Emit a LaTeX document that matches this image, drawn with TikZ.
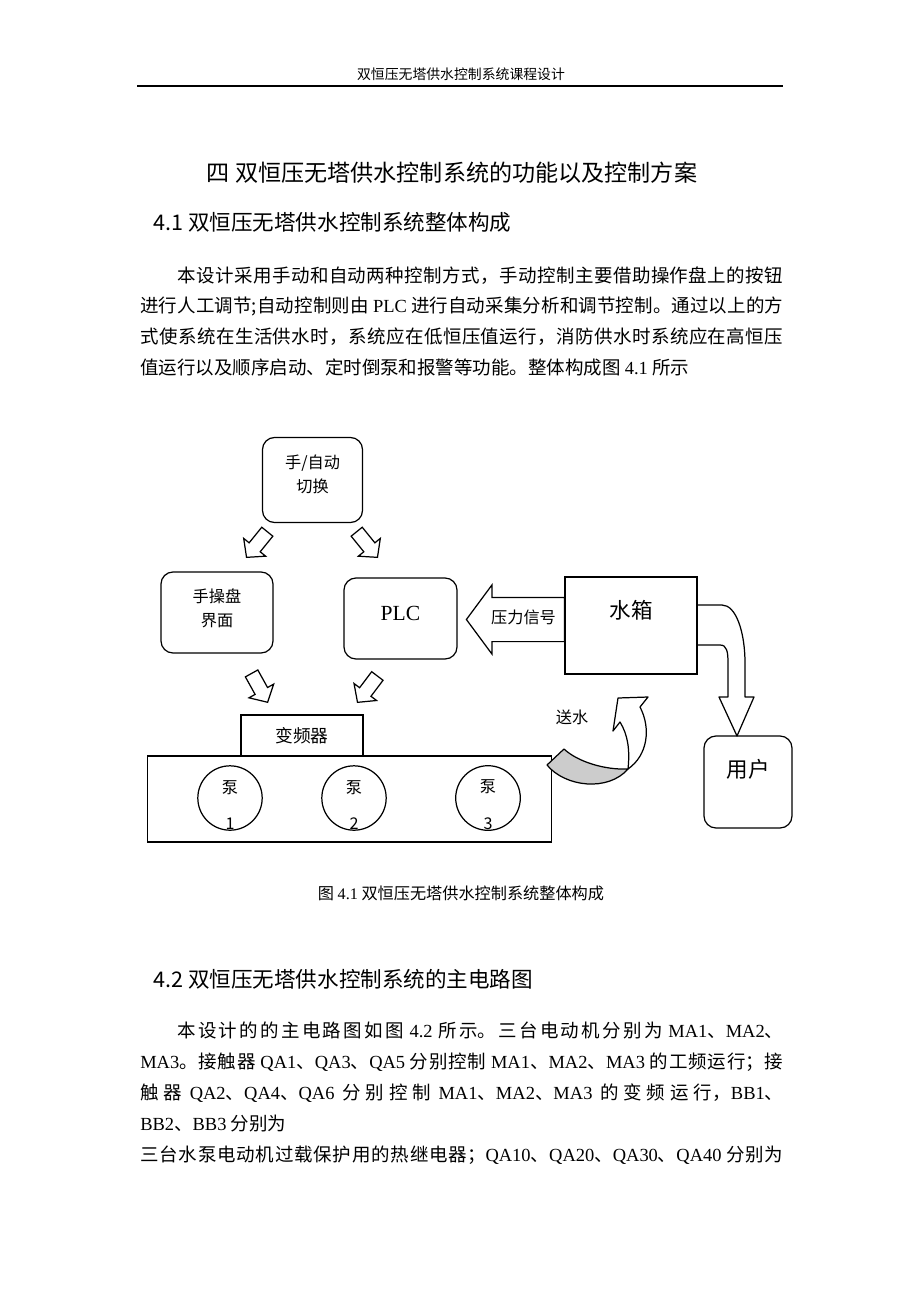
\documentclass[tikz,border=0pt]{standalone}
\usepackage{fontspec}
\setmainfont{Noto Sans CJK SC}
\newfontfamily\lat{Liberation Serif}
\newcommand{\en}[1]{{\lat #1}}
\usetikzlibrary{shapes.arrows}
\newlength{\pxu}
\setlength{\pxu}{0.22826mm}
\XeTeXlinebreaklocale "zh"
\XeTeXlinebreakskip=0pt plus 2pt minus 0.3pt
\tolerance=9999
\hbadness=10000
\newcommand{\xiaowu}{\fontsize{9pt}{11pt}\selectfont}
\newcommand{\wuhao}{\fontsize{10.5pt}{15.5pt}\selectfont}
\newcommand{\bianpin}{\fontsize{11.5pt}{14pt}\selectfont}
\newcommand{\xiaosi}{\fontsize{12pt}{20.1pt}\selectfont}
\newcommand{\sihao}{\fontsize{14pt}{18pt}\selectfont}
\newcommand{\xiaosan}{\fontsize{15pt}{18pt}\selectfont}
\newcommand{\lift}[1]{\rule[-#1]{0pt}{0pt}}

\begin{document}
\begin{tikzpicture}[x=\pxu,y=-\pxu,
  box/.style={draw,line width=0.8pt,align=center,inner sep=0pt},
  rbox/.style={box,rounded corners=12\pxu},
  pump/.style={draw,line width=0.8pt,circle,minimum size=62\pxu,inner sep=0pt,align=center,font=\wuhao},
  blk/.style={draw,line width=0.8pt,single arrow,single arrow head extend=7\pxu,
    single arrow tip angle=95,minimum height=33\pxu,inner sep=6.5\pxu,anchor=tip},
  press/.style={draw,line width=0.8pt,single arrow,shape border rotate=180,
    single arrow head extend=12.5\pxu,single arrow tip angle=107,minimum height=98\pxu,
    inner xsep=5\pxu,inner ysep=14.5\pxu,text height=11\pxu,text depth=3\pxu,font=\wuhao},
  flow/.style={draw,line width=0.8pt,line join=round},
  para/.style={anchor=north west,inner sep=0pt,text width=643\pxu,align=justify,font=\xiaosi}]
\useasboundingbox (0,0) rectangle (920,1302);
% page head
\node[font=\xiaowu] (hdr) at (461,74) {双恒压无塔供水控制系统课程设计};
\draw[line width=1.3pt] (137,86) -- (783,86);
\node[font=\xiaosan] (title) at (452,173) {四 双恒压无塔供水控制系统的功能以及控制方案};
\node[font=\sihao,anchor=west] (sec1) at (148,222) {4.1 双恒压无塔供水控制系统整体构成};
\node[para] (para1) at (140,266) {\noindent\hspace*{2em}本设计采用手动和自动两种控制方式，手动控制主要借助操作盘上的按钮\linebreak
进行人工调节;自动控制则由 \en{PLC} 进行自动采集分析和调节控制。通过以上的方\linebreak
式使系统在生活供水时，系统应在低恒压值运行，消防供水时系统应在高恒压\linebreak
值运行以及顺序启动、定时倒泵和报警等功能。整体构成图 \en{4.1} 所示};
%------------------ figure 4.1
\node[rbox,minimum width=100\pxu,minimum height=85\pxu,font=\wuhao] (switch) at (312.5,480) {手/自动\\切换\lift{8.5pt}};
\node[rbox,minimum width=112\pxu,minimum height=81\pxu,font=\wuhao] (manual) at (217,612.5) {手操盘\\界面\lift{6.5pt}};
\node[rbox,minimum width=113\pxu,minimum height=81\pxu,font=\sihao\lat,text depth=11\pxu] (plc) at (400.5,618.5) {PLC};
\node[box,minimum width=132\pxu,minimum height=97\pxu,font=\sihao,text depth=32\pxu] (tank) at (631,625.5) {水箱};
\node[rbox,minimum width=88\pxu,minimum height=92\pxu,font=\sihao,text depth=27\pxu] (user) at (748,782) {用户};
\node[box,minimum width=404\pxu,minimum height=86\pxu] (base) at (349.5,799) {};
\node[box,minimum width=122\pxu,minimum height=41\pxu,font=\bianpin] (inv) at (302,735.5) {变频器};
\node[pump] (pumpA) at (230,798) {\rule{0pt}{17pt}泵\\[8pt]1};
\node[pump] (pumpB) at (354,798) {\rule{0pt}{17pt}泵\\[8pt]2};
\node[pump] (pumpC) at (488,798) {\rule{0pt}{17pt}泵\\[8pt]3};
\node[blk,rotate=-129] (arrA) at (246,558) {};
\node[blk,rotate=-51] (arrB) at (378,558) {};
\node[blk,rotate=-61] (arrC) at (268,703) {};
\node[blk,rotate=-127] (arrD) at (357,703) {};
\node[press,anchor=tail] (sig) at (565,619.5) {压力信号};
\draw[flow] (697,605) -- (722,605) .. controls (736,605) and (745,632) .. (745,663) -- (745,697)
  -- (754,697) -- (737,736) -- (719,697) -- (728,697) -- (728,663)
  .. controls (728,652) and (727,645) .. (720,645) -- (697,645);
\draw[flow,fill=gray!40] (628,769) .. controls (605,770) and (578,762) .. (564,749) -- (547,765)
  .. controls (565,787) and (608,792) .. (628,769) -- cycle;
\draw[flow,fill=white] (618,698) -- (648,697) -- (640,707) .. controls (651,728) and (648,755) .. (628,769)
  .. controls (630,750) and (628,735) .. (620,722) -- (613,731) -- cycle;
\node[font=\wuhao] (send) at (572,717) {送水};
\node[font=\wuhao] (cap1) at (461,893) {图 \en{4.1} 双恒压无塔供水控制系统整体构成};
%------------------
\node[font=\sihao,anchor=west] (sec2) at (148,979) {4.2 双恒压无塔供水控制系统的主电路图};
\node[para] (para2) at (140,1022) {\noindent\hspace*{2em}本设计的的主电路图如图 \en{4.2} 所示。三台电动机分别为 \en{MA1}、\en{MA2}、\linebreak
\en{MA3}。接触器 \en{QA1}、\en{QA3}、\en{QA5} 分别控制 \en{MA1}、\en{MA2}、\en{MA3} 的工频运行；接\linebreak
触器 \en{QA2}、\en{QA4}、\en{QA6} 分别控制 \en{MA1}、\en{MA2}、\en{MA3} 的变频运行，\en{BB1}、\linebreak
\en{BB2}、\en{BB3} 分别为\hfill\null\linebreak
三台水泵电动机过载保护用的热继电器；\en{QA10}、\en{QA20}、\en{QA30}、\en{QA40} 分别为\linebreak};
\end{tikzpicture}
\end{document}
